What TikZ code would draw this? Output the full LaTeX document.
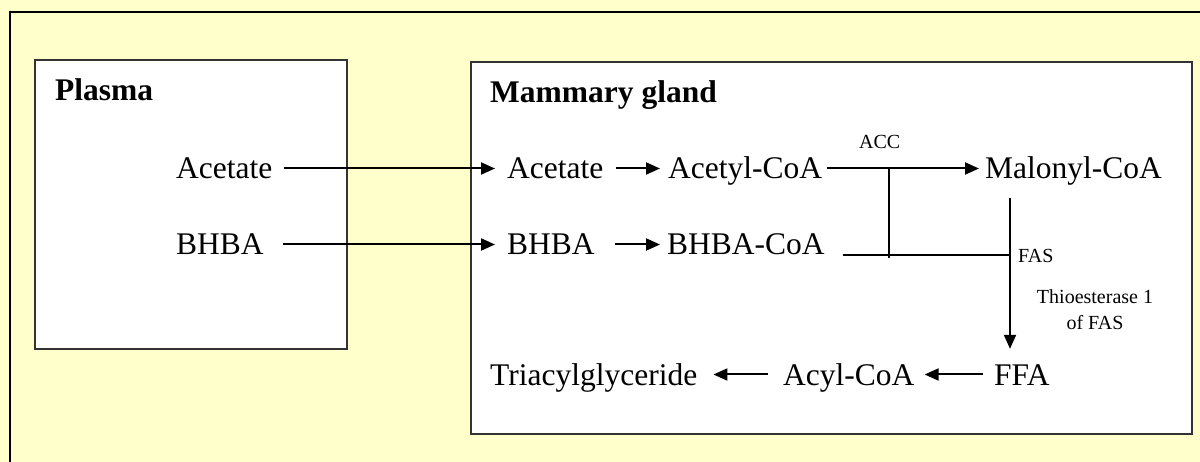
\documentclass[tikz,border=0pt]{standalone}
\usepackage{fontspec}
\setmainfont{LiberationSerif}[Extension=.ttf, UprightFont=*-Regular, BoldFont=*-Bold, ItalicFont=*-Italic, BoldItalicFont=*-BoldItalic]
\usetikzlibrary{arrows.meta}
\definecolor{bgyellow}{HTML}{FFFFCC}
\definecolor{boxline}{HTML}{333333}
\tikzset{
  lbl/.style={inner sep=0pt, anchor=base west, font=\fontsize{31.5}{36}\selectfont, text height=21pt, text depth=0pt},
  ttl/.style={inner sep=0pt, anchor=base west, font=\fontsize{31.5}{36}\selectfont\bfseries},
  small/.style={inner sep=0pt, font=\fontsize{20}{26}\selectfont},
  conn/.style={line width=2pt},
  arr/.style={line width=2pt, -{Triangle[length=14pt,width=12pt]}},
  panel/.style={draw=boxline, line width=2pt, fill=white}
}
\begin{document}
\begin{tikzpicture}[x=1pt,y=-1pt]
\useasboundingbox (0,0) rectangle (1200,462);
\fill[bgyellow] (0,0) rectangle (1200,462);
\draw[line width=2pt] (10,462) -- (10,12) -- (1200,12);
% panels
\draw[panel] (35,60) rectangle (347,349);
\draw[panel] (471,62) rectangle (1192,434);
% titles
\node[ttl] (tplasma) at (55,101) {Plasma};
\node[ttl] (tmam) at (490,103) {Mammary gland};
% plasma nodes
\node[lbl] (pac) at (176,179) {Acetate};
\node[lbl] (pbh) at (176,255) {BHBA};
% mammary nodes
\node[lbl] (mac) at (507,179) {Acetate};
\node[lbl] (acoa) at (668,179) {Acetyl-CoA};
\node[lbl] (mal) at (985,179) {Malonyl-CoA};
\node[lbl] (mbh) at (507,255) {BHBA};
\node[lbl] (bcoa) at (667,255) {BHBA-CoA};
\node[lbl] (ffa) at (994,385) {FFA};
\node[lbl] (acyl) at (783,385) {Acyl-CoA};
\node[lbl] (tri) at (490,385) {Triacylglyceride};
% enzyme labels
\node[small, anchor=base west] (acc) at (859,149) {ACC};
\node[small, anchor=base west] (fas) at (1018,263) {FAS};
\node[small, anchor=north, align=center] (thio) at (1095,289) {Thioesterase 1\\of FAS};
% junction coordinates
\coordinate (accA) at (889,168);
\coordinate (accB) at (889,258);
\coordinate (fastop) at (1010,198);
\coordinate (fasj) at (1010,255);
% connectors
\draw[arr, shorten <=11pt, shorten >=12pt] (pac) -- (mac);
\draw[arr, shorten <=19pt, shorten >=12pt] (pbh.east) -- (mbh.west);
\draw[arr, shorten <=12pt, shorten >=8pt] (mac) -- (acoa);
\draw[arr, shorten <=20pt, shorten >=7pt] (mbh) -- (bcoa);
\draw[arr, shorten <=5pt, shorten >=6pt] (acoa) -- (mal);
\draw[conn, shorten <=18pt] (bcoa.base east) -- (fasj);
\draw[conn] (accA) -- (accB);
\draw[arr, shorten >=15pt] (fastop) -- (fastop |- ffa.north);
\draw[arr, shorten <=11pt, shorten >=10pt] (ffa) -- (acyl);
\draw[arr, shorten <=15pt, shorten >=16pt] (acyl) -- (tri);
\end{tikzpicture}
\end{document}
